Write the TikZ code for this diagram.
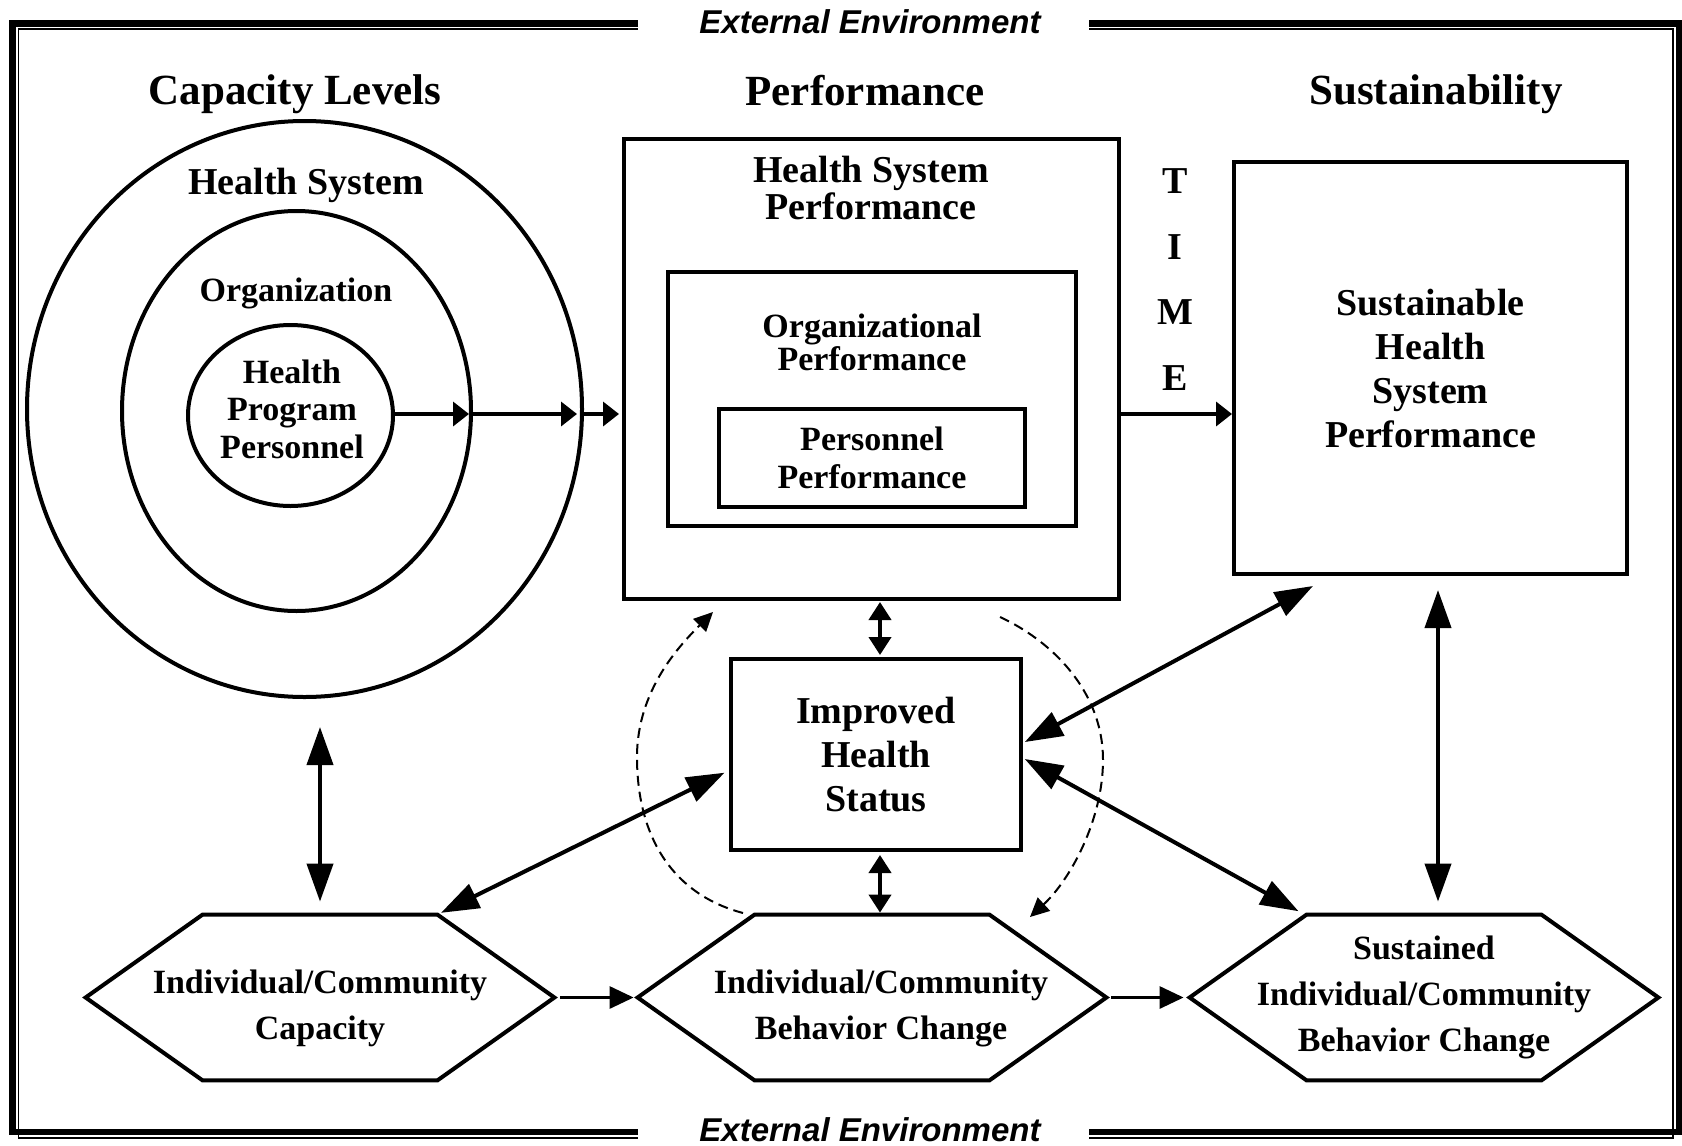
\documentclass[tikz,border=0pt]{standalone}
\usepackage{fontspec}
\setmainfont{Liberation Serif}
\newfontfamily\envfont{Liberation Sans}
\usetikzlibrary{arrows.meta,shapes.geometric,calc}
\begin{document}
\begin{tikzpicture}[x=0.5pt,y=-0.5pt,
  box/.style={draw,line width=2pt,rectangle,inner sep=0pt,align=center},
  ell/.style={draw,line width=2pt,ellipse,inner sep=0pt},
  hexbox/.style={inner sep=0pt,minimum width=234pt,minimum height=82.5pt},
  hextxt/.style={inner sep=0pt,align=center,font=\fontsize{17}{23}\selectfont\bfseries},
  hexline/.style={line width=2pt,line join=miter},
  headtxt/.style={inner sep=0pt,font=\fontsize{21.5}{26}\selectfont\bfseries},
  bigtxt/.style={inner sep=0pt,align=center,font=\fontsize{19}{22}\selectfont\bfseries},
  midtxt/.style={inner sep=0pt,align=center,font=\fontsize{17}{19}\selectfont\bfseries},
  envtxt/.style={inner sep=0pt,font=\fontsize{16.5}{20}\selectfont\envfont\bfseries\itshape},
  thickframe/.style={line width=3.3pt},
  thinframe/.style={line width=0.7pt},
  bigdbl/.style={line width=2pt,{Triangle[length=19pt,width=13pt]}-{Triangle[length=19pt,width=13pt]}},
  smalldbl/.style={line width=2pt,{Triangle[length=9pt,width=11pt]}-{Triangle[length=9pt,width=11pt]}},
  rowarr/.style={line width=1.8pt,-{Triangle[length=8pt,width=12pt]}},
  hexarr/.style={line width=1.5pt,-{Triangle[length=12pt,width=11pt]}},
  dasharr/.style={line width=1pt,dash pattern=on 5pt off 3pt,-{Triangle[length=9.5pt,width=9pt]}}
]
\useasboundingbox (0,0) rectangle (1682,1146);

% frame
\draw[thickframe] (638,23.5) -| (12.5,1132) -- (638,1132);
\draw[thickframe] (1089,23.5) -| (1679,1132) -- (1089,1132);
\draw[thinframe] (638,29) -| (18.5,1138) -- (638,1138);
\draw[thinframe] (1089,29) -| (1673,1138) -- (1089,1138);
\node[envtxt] (envtop) at (870,22) {External Environment};
\node[envtxt] (envbot) at (870,1130) {External Environment};

% headings
\node[headtxt] (caphead) at (295,94) {Capacity Levels};
\node[headtxt] (perfhead) at (865,91) {Performance};
\node[headtxt] (sushead) at (1436,94) {Sustainability};

% capacity ellipses
\node[ell,minimum width=277.5pt,minimum height=288pt] (outer) at (304.5,409) {};
\node[ell,minimum width=174.5pt,minimum height=200pt] (mid) at (296.5,411) {};
\node[ell,minimum width=102.5pt,minimum height=90.5pt] (inner) at (290.5,415.5) {};
\node[bigtxt] (hslab) at (306,185) {Health System};
\node[midtxt] (orglab) at (296,293) {Organization};
\node[midtxt,font=\fontsize{17}{18.75}\selectfont\bfseries] (hpplab) at (292,409) {Health\\Program\\Personnel};

% performance boxes
\node[box,minimum width=247.5pt,minimum height=230pt] (hsp) at (871.5,369) {};
\node[bigtxt,font=\fontsize{19}{18.25}\selectfont\bfseries] (hsplab) at (871,188) {Health System\\Performance};
\node[box,minimum width=204pt,minimum height=127pt] (orgp) at (872,399) {};
\node[midtxt,font=\fontsize{17}{15.5}\selectfont\bfseries] (orgplab) at (872,342.5) {Organizational\\Performance};
\node[box,minimum width=153pt,minimum height=49pt,font=\fontsize{17}{19}\selectfont\bfseries] (pers) at (872,458) {Personnel\\Performance};

% time
\node[bigtxt,font=\fontsize{19}{32.8}\selectfont\bfseries] (time) at (1175,279.5) {T\\I\\M\\E};

% sustainability box
\node[box,minimum width=196.5pt,minimum height=206pt,font=\fontsize{19}{22}\selectfont\bfseries] (shsp) at (1430.5,368) {Sustainable\\Health\\System\\Performance};

% improved health status
\node[box,minimum width=145pt,minimum height=95.5pt,font=\fontsize{19}{22}\selectfont\bfseries] (ihs) at (876,754.5) {Improved\\Health\\Status};

% hexagons
\node[hexbox] (h1) at (320,997.5) {};
\node[hexbox] (h2) at (872,997.5) {};
\node[hexbox] (h3) at (1424,997.5) {};
\foreach \h in {h1,h2,h3}{
  \draw[hexline] (\h.west) -- ($(\h.north west)+(117,0)$) -- ($(\h.north east)+(-117,0)$) -- (\h.east) -- ($(\h.south east)+(-117,0)$) -- ($(\h.south west)+(117,0)$) -- cycle;
}
\node[hextxt] (h1t) at (320,1008) {Individual/Community\\Capacity};
\node[hextxt] (h2t) at (881,1008) {Individual/Community\\Behavior Change};
\node[hextxt] (h3t) at (1424,997.5) {Sustained\\Individual/Community\\Behavior Change};

% helper coordinates
\coordinate (row) at (0,414);
\coordinate (col) at (880,0);
\coordinate (rv) at (1438,0);
\coordinate (sa) at (1313,586);
\coordinate (dl0) at (743,913);
\coordinate (dl1) at (637,757);
\coordinate (dl2) at (713,612);
\coordinate (dr0) at (1000,617);
\coordinate (dr1) at (1103,760);
\coordinate (dr2) at (1030,917);

% capacity -> performance arrows
\draw[rowarr,shorten >=2pt] (inner.east |- row) -- (mid.east |- row);
\draw[rowarr,shorten >=3.5pt] (mid.east |- row) -- (outer.east |- row);
\draw[rowarr,shorten >=1.5pt] (outer.east |- row) -- (hsp.west |- row);
\draw[rowarr] (hsp.east |- row) -- (shsp.west |- row);

% vertical double arrows
\draw[bigdbl,shorten <=14pt,shorten >=6.5pt] (h1.north |- outer.south) -- (h1.north);
\draw[bigdbl,shorten <=7pt,shorten >=6.5pt] (rv |- shsp.south) -- (rv |- h3.north);
\draw[smalldbl,shorten <=0.5pt,shorten >=1pt] (col |- hsp.south) -- (col |- ihs.north);
\draw[smalldbl,shorten <=1.5pt,shorten >=1pt] (col |- ihs.south) -- (col |- h2.north);

% diagonal double arrows
\draw[bigdbl,shorten <=2.5pt,shorten >=2pt] ([yshift=-8pt]ihs.west) -- ($(h1.north east)+(-117,0)$);
\draw[bigdbl,shorten >=1pt] (sa) -- ([yshift=5.75pt]ihs.east);
\draw[bigdbl,shorten <=1pt,shorten >=3.5pt] ([yshift=-1.75pt]ihs.east) -- ($(h3.north west)+(115,0)$);

% hexagon arrows
\draw[hexarr,shorten <=3pt,shorten >=2pt] (h1.east) -- (h2.west);
\draw[hexarr,shorten <=2.5pt,shorten >=3pt] (h2.east) -- (h3.west);

% dashed feedback curves
\draw[dasharr] (dl0) .. controls (675,895) and (637,840) .. (dl1) .. controls (637,690) and (680,645) .. (dl2);
\draw[dasharr] (dr0) .. controls (1050,640) and (1103,690) .. (dr1) .. controls (1103,820) and (1070,880) .. (dr2);
\end{tikzpicture}
\end{document}
